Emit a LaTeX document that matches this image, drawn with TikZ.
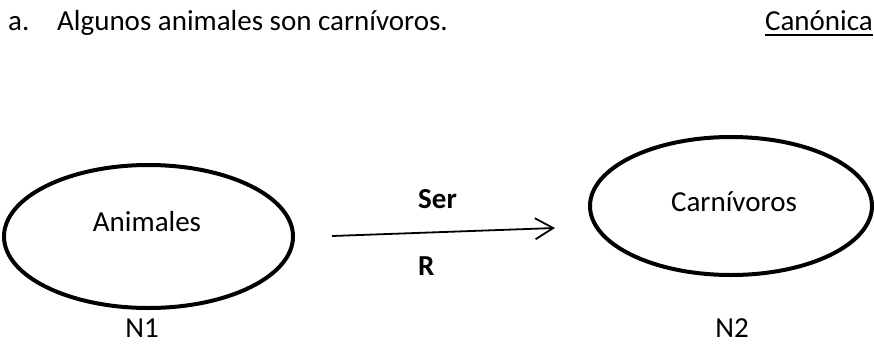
\documentclass[tikz,border=0pt]{standalone}
\usepackage{fontspec}
\setmainfont{Carlito}
\usetikzlibrary{shapes.geometric,arrows.meta}

\begin{document}
\begin{tikzpicture}[x=1pt, y=-1pt,
  conjunto/.style={draw, ellipse, line width=4pt, inner sep=0pt},
  texto/.style={anchor=base, inner sep=0pt, font=\fontsize{29}{33}\selectfont},
  relacion/.style={line width=1.8pt, -{Straight Barb[length=18pt, width=21pt, line width=1.8pt]}}]
\useasboundingbox (0, 0) rectangle (874, 345);

% Enunciado
\node[texto, anchor=base west] (letra) at (8, 31) {a.};
\node[texto, anchor=base west] (frase) at (57, 31) {Algunos animales son carnívoros.};
\node[texto, anchor=base east] (tipo) at (873, 31) {Canónica};
\draw[line width=1.8pt] ([yshift=-4pt]tipo.base west) -- ([yshift=-4pt]tipo.base east);

% Conjuntos
\node[conjunto, minimum width=289, minimum height=143] (n1) at (148.5, 236.5) {};
\node[texto] (animales) at (147, 231) {Animales};
\node[texto] (etiq1) at (142, 337) {N1};

\node[conjunto, minimum width=282, minimum height=138] (n2) at (731, 206) {};
\node[texto] (carnivoros) at (734, 211) {Carnívoros};
\node[texto] (etiq2) at (732, 337) {N2};

% Relacion
\coordinate (ini) at (332, 236);
\coordinate (fin) at (555, 228);
\draw[relacion] (ini) -- (fin);
\node[texto, anchor=base west, font=\fontsize{29}{33}\selectfont\bfseries] (ser) at (418, 208) {Ser};
\node[texto, anchor=base west, font=\fontsize{29}{33}\selectfont\bfseries] (r) at (418, 275) {R};
\end{tikzpicture}
\end{document}
